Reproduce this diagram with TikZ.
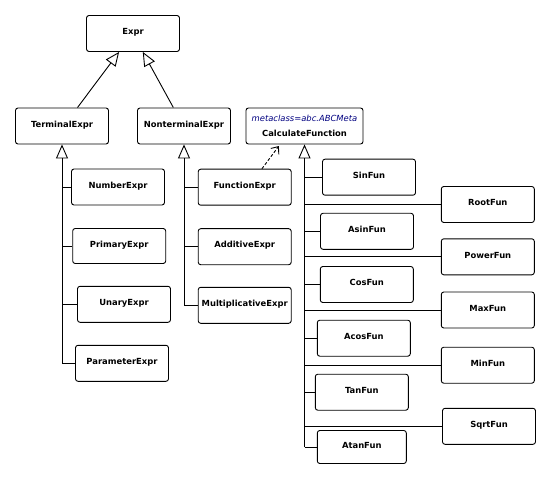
\documentclass[tikz,border=0pt]{standalone}
\usepackage{fontspec}
\setmainfont{DejaVu Sans}
\usetikzlibrary{arrows.meta}
\definecolor{metablue}{RGB}{0,0,128}
\tikzset{>=latex}

\begin{document}
\begin{tikzpicture}[x=1pt,y=-1pt]
    \tikzset{
    box/.style={draw, rounded corners=2.5pt, line width=0.9pt, minimum width=93pt, minimum height=36pt, inner sep=0pt},
    cls/.style={box, font=\fontsize{8.4}{10}\selectfont\bfseries, text height=6.5pt, text depth=4pt},
    metacls/.style={box, align=center, font=\fontsize{8.4}{15.5}\selectfont\bfseries},
    gen/.style={line width=0.9pt, -{Triangle[open, length=14pt, width=12pt]}},
    branch/.style={line width=0.9pt},
    dep/.style={line width=0.9pt, dash pattern=on 3pt off 2pt, shorten >=2pt, -{Straight Barb[length=6pt, width=10pt]}},
    }
    \useasboundingbox (0,0) rectangle (546,489);

    % Top of the hierarchy.
    \path (133,33.5)  node [cls] (expr)        {Expr};
    \path (62,126)    node [cls] (terminal)    {TerminalExpr};
    \path (184,126)   node [cls] (nonterminal) {NonterminalExpr};
    \path (304.5,126) node [metacls, minimum width=117pt] (calc)
        {{\mdseries\itshape\color{metablue}metaclass=abc.ABCMeta}\\CalculateFunction};

    % Terminal expressions.
    \path (118,187)   node [cls] (number)  {NumberExpr};
    \path (119.2,246) node [cls, minimum height=35pt] (primary) {PrimaryExpr};
    \path (124,304.3) node [cls] (unary)   {UnaryExpr};
    \path (122,363.3) node [cls] (param)   {ParameterExpr};

    % Nonterminal expressions.
    \path (244.7,187.2) node [cls] (function) {FunctionExpr};
    \path (244.7,246.7) node [cls] (additive) {AdditiveExpr};
    \path (244.7,305.3) node [cls] (multi)    {MultiplicativeExpr};

    % Functions, left column.
    \path (369,177.2)   node [cls] (sin)  {SinFun};
    \path (367,231.3)   node [cls] (asin) {AsinFun};
    \path (366.8,284.5) node [cls] (cos)  {CosFun};
    \path (363.8,338.2) node [cls] (acos) {AcosFun};
    \path (361.8,392.2) node [cls] (tan)  {TanFun};
    \path (361.8,447)   node [cls, minimum width=89pt, minimum height=33pt] (atan) {AtanFun};

    % Functions, right column.
    \path (487.8,204.5) node [cls] (root)  {RootFun};
    \path (487.8,256.8) node [cls] (power) {PowerFun};
    \path (487.8,310)   node [cls] (max)   {MaxFun};
    \path (487.8,365.2) node [cls] (min)   {MinFun};
    \path (489,426.3)   node [cls] (sqrt)  {SqrtFun};

    % Generalizations to Expr.
    \draw [gen] (terminal.50)     -- (expr.233);
    \draw [gen] (nonterminal.120) -- (expr.298);

    % TerminalExpr tree.
    \draw [gen]    (terminal.south |- param.west) -- (terminal.south);
    \draw [branch] (terminal.south |- number.west)  -- (number.west);
    \draw [branch] (terminal.south |- primary.west) -- (primary.west);
    \draw [branch] (terminal.south |- unary.west)   -- (unary.west);
    \draw [branch] (terminal.south |- param.west)   -- (param.west);

    % NonterminalExpr tree.
    \draw [gen]    (nonterminal.south |- multi.west) -- (nonterminal.south);
    \draw [branch] (nonterminal.south |- function.west) -- (function.west);
    \draw [branch] (nonterminal.south |- additive.west) -- (additive.west);
    \draw [branch] (nonterminal.south |- multi.west)    -- (multi.west);

    % FunctionExpr uses CalculateFunction.
    \draw [dep] (function.47) -- (calc.217);

    % CalculateFunction tree.
    \draw [gen]    (calc.south |- atan.west) -- (calc.south);
    \draw [branch] (calc.south |- sin.west)   -- (sin.west);
    \draw [branch] (calc.south |- root.west)  -- (root.west);
    \draw [branch] (calc.south |- asin.west)  -- (asin.west);
    \draw [branch] (calc.south |- power.west) -- (power.west);
    \draw [branch] (calc.south |- cos.west)   -- (cos.west);
    \draw [branch] (calc.south |- max.west)   -- (max.west);
    \draw [branch] (calc.south |- acos.west)  -- (acos.west);
    \draw [branch] (calc.south |- min.west)   -- (min.west);
    \draw [branch] (calc.south |- tan.west)   -- (tan.west);
    \draw [branch] (calc.south |- sqrt.west)  -- (sqrt.west);
    \draw [branch] (calc.south |- atan.west)  -- (atan.west);
\end{tikzpicture}
\end{document}
